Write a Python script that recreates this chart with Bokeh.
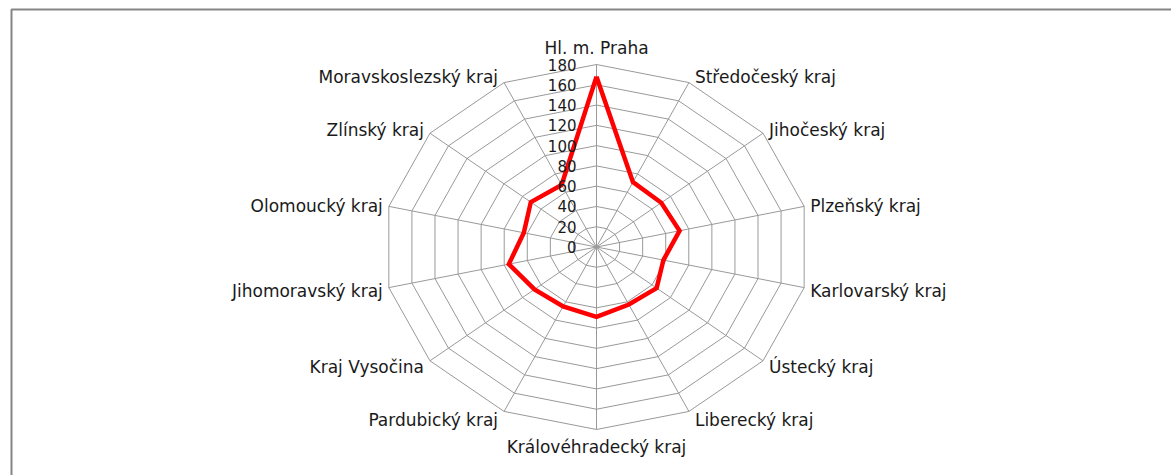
import numpy as np
from bokeh.plotting import figure
from bokeh.models import Range1d, ColumnDataSource
from bokeh.core.properties import value
from bokeh.embed import file_html
from bokeh.resources import INLINE

# ---- data ----
regions = ["Hl. m. Praha", "Středočeský kraj", "Jihočeský kraj", "Plzeňský kraj",
           "Karlovarský kraj", "Ústecký kraj", "Liberecký kraj", "Královéhradecký kraj",
           "Pardubický kraj", "Kraj Vysočina", "Jihomoravský kraj", "Olomoucký kraj",
           "Zlínský kraj", "Moravskoslezský kraj"]
values = [168, 71, 70, 72, 58, 65, 63, 69, 65, 67, 76, 63, 71, 68]
ticks = [0, 20, 40, 60, 80, 100, 120, 140, 160, 180]
tick_labels = [str(t) for t in ticks]

# ---- layout ----
W, H = 1171, 475
CX, CY = 596.0, 246.5          # centre in canvas px
RMAX = ticks[-1]
SX = 213.0 / RMAX               # px per unit horizontally
SY = 182.5 / RMAX               # px per unit vertically
FONT = value("DejaVu Sans")
TXT = "#1a1a1a"
GRID = "#999999"

p = figure(width=W, height=H, output_backend="svg", toolbar_location=None,
           x_range=Range1d(-CX / SX, (W - CX) / SX),
           y_range=Range1d(-(H - CY) / SY, CY / SY),
           x_axis_type=None, y_axis_type=None, min_border=0)
p.grid.visible = False
p.outline_line_color = None
p.background_fill_color = "white"
p.border_fill_color = "white"

n = len(regions)
theta = np.arange(n) * 2 * np.pi / n
sin_t, cos_t = np.sin(theta), np.cos(theta)

# chart-area border (left and top edges visible)
xl = (11 - CX) / SX
yt = (CY - 9) / SY
p.line([xl, xl, 10 * RMAX], [-10 * RMAX, yt, yt], line_color="#858585", line_width=2)

# rings
ring_xs, ring_ys = [], []
for t in ticks[1:]:
    ring_xs.append(list(t * sin_t) + [t * sin_t[0]])
    ring_ys.append(list(t * cos_t) + [t * cos_t[0]])
p.multi_line(ring_xs, ring_ys, line_color=GRID, line_width=1)

# spokes
p.multi_line([[0, RMAX * s] for s in sin_t], [[0, RMAX * c] for c in cos_t],
             line_color=GRID, line_width=1)

# data series
vals = np.array(values, dtype=float)
sx_ = list(vals * sin_t) + [vals[0] * sin_t[0]]
sy_ = list(vals * cos_t) + [vals[0] * cos_t[0]]
p.line(sx_, sy_, line_color="#ff0000", line_width=4.5, line_join="miter")

# tick labels
p.text(x=[0] * len(ticks), y=ticks, text=tick_labels, x_offset=-20,
       text_align="right", text_baseline="middle", text_font=FONT,
       text_font_size="15px", text_color=TXT)

# category labels
aligns, xo, yo = [], [], []
for s, c in zip(sin_t, cos_t):
    if s > 0.05:
        aligns.append("left"); xo.append(6)
    elif s < -0.05:
        aligns.append("right"); xo.append(-6)
    else:
        aligns.append("center"); xo.append(0)
    if abs(s) <= 0.05:
        yo.append(-17 if c > 0 else 17)
    else:
        yo.append(-7.5 * c + 1.5)
src = ColumnDataSource(dict(x=RMAX * sin_t, y=RMAX * cos_t, text=regions,
                            align=aligns, xo=xo, yo=yo))
p.text(x="x", y="y", text="text", source=src, x_offset="xo", y_offset="yo",
       text_align="align", text_baseline="middle", text_font=FONT,
       text_font_size="17px", text_color=TXT)

open("out.html", "w").write(file_html(p, INLINE))
